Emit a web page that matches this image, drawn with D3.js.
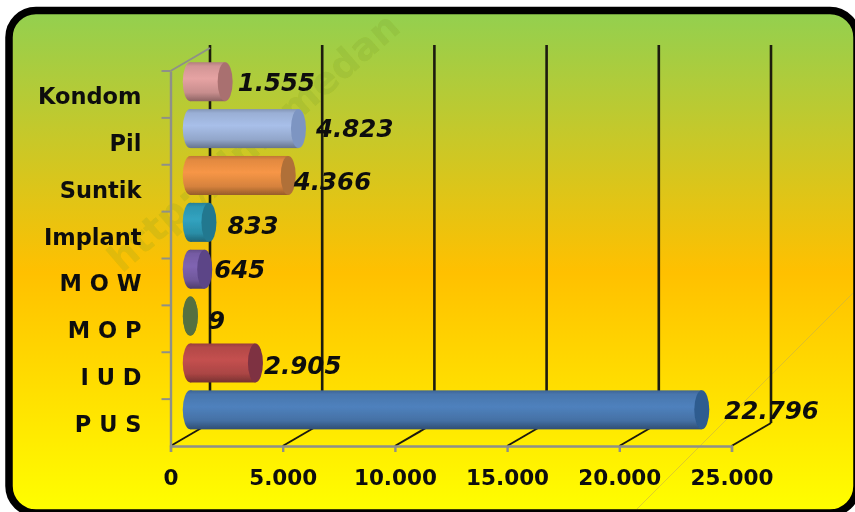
<!DOCTYPE html>
<html>
<head>
<meta charset="utf-8">
<script src="https://cdn.jsdelivr.net/npm/d3@7"></script>
<style>
  html, body { margin: 0; padding: 0; background: #fff; overflow: hidden; }
  svg { display: block; }
  text { font-family: "DejaVu Sans", Verdana, sans-serif; font-weight: bold; fill: #111; }
</style>
</head>
<body>
<div id="chart"></div>
<script>
const categories = ["Kondom", "Pil", "Suntik", "Implant", "M O W", "M O P", "I U D", "P U S"];
const values = [1555, 4823, 4366, 833, 645, 9, 2905, 22796];
const tickValues = [0, 5000, 10000, 15000, 20000, 25000];
const bodyColors = ["#e6a3a3", "#a8bfe9", "#f79646", "#31a3c0", "#8064b2", "#6a8a4c", "#c4504f", "#4f81bd"];
const capColors = ["#a9706f", "#7d95c2", "#b06f38", "#23788f", "#5b4487", "#55703f", "#7e3042", "#2d5b8f"];
// hand nudges for the value labels, they dont sit evenly in the original
const labelDx = [5, 10, -2, 11, 2, 10, 1, 15];
const labelDy = [0, 0, 5.5, 3, 0, 4.5, 2, 0];

const width = 855, height = 512;
const depthX = 39.5, depthY = -23;
const capRx = 7.5, barH = 39;

const svg = d3.select("#chart").append("svg")
  .attr("width", width)
  .attr("height", height);

const defs = svg.append("defs");

const bg = defs.append("linearGradient")
  .attr("id", "bg").attr("x1", 0).attr("y1", 0).attr("x2", 0).attr("y2", 1);
bg.append("stop").attr("offset", "0%").attr("stop-color", "#92d050");
bg.append("stop").attr("offset", "52%").attr("stop-color", "#ffc000");
bg.append("stop").attr("offset", "100%").attr("stop-color", "#ffff00");

const soft = defs.append("filter").attr("id", "soft");
soft.append("feGaussianBlur").attr("stdDeviation", 0.4);

bodyColors.forEach((c, i) => {
  const g = defs.append("linearGradient")
    .attr("id", "cyl" + i).attr("x1", 0).attr("y1", 0).attr("x2", 0).attr("y2", 1);
  const col = d3.color(c);
  g.append("stop").attr("offset", "0%").attr("stop-color", col.darker(0.7));
  g.append("stop").attr("offset", "10%").attr("stop-color", col.darker(0.25));
  g.append("stop").attr("offset", "42%").attr("stop-color", col);
  g.append("stop").attr("offset", "78%").attr("stop-color", col.darker(0.4));
  g.append("stop").attr("offset", "100%").attr("stop-color", col.darker(1.4));
});

// frame
svg.append("rect")
  .attr("x", 9).attr("y", 10.5)
  .attr("width", 848).attr("height", 502.5)
  .attr("rx", 27).attr("ry", 27)
  .attr("fill", "url(#bg)")
  .attr("stroke", "#000")
  .attr("stroke-width", 7.5);

const root = svg.append("g").attr("filter", "url(#soft)");

// watermark
root.append("text")
  .attr("transform", "translate(122,274) rotate(-41)")
  .attr("font-size", 38)
  .style("fill", "#7a9a20")
  .style("opacity", 0.18)
  .text("http://ilmumedan");

root.append("line")
  .attr("x1", 637).attr("y1", 509).attr("x2", 853).attr("y2", 293)
  .attr("stroke", "#c9b24a").attr("stroke-width", 1).attr("opacity", 0.6);

const x = d3.scaleLinear().domain([0, 25000]).range([170.5, 731.5]);
const y = d3.scaleBand().domain(categories).range([71, 446]);
const nf = d3.formatLocale({ decimal: ",", thousands: ".", grouping: [3], currency: ["", ""] }).format(",d");

// back wall gridlines + floor lines
root.append("g").selectAll("line.wall")
  .data(tickValues)
  .join("line")
  .attr("x1", d => x(d) + depthX).attr("x2", d => x(d) + depthX)
  .attr("y1", 45).attr("y2", 446 + depthY)
  .attr("stroke", "#1c1a10").attr("stroke-width", 2.6);

root.append("g").selectAll("line.floor")
  .data(tickValues)
  .join("line")
  .attr("x1", d => x(d)).attr("x2", d => x(d) + depthX)
  .attr("y1", 446).attr("y2", 446 + depthY)
  .attr("stroke", "#1c1a10").attr("stroke-width", 2);

// left side top edge
root.append("line")
  .attr("x1", x(0)).attr("y1", 71).attr("x2", x(0) + depthX).attr("y2", 71 + depthY)
  .attr("stroke", "#8f9088").attr("stroke-width", 2);

// axes
const xAxis = root.append("g")
  .attr("transform", "translate(0,446)")
  .call(d3.axisBottom(x).tickValues(tickValues).tickSize(6).tickPadding(18).tickFormat(nf));
xAxis.selectAll("text").attr("font-size", 21.5).attr("dy", "0.71em");

const yAxis = root.append("g")
  .attr("transform", "translate(170.5,0)")
  .call(d3.axisLeft(y).tickSize(0).tickPadding(29));
yAxis.selectAll("text").attr("font-size", 22.5).attr("dy", "0.42em");

root.selectAll(".domain").attr("stroke", "#8f9088").attr("stroke-width", 2.4);
xAxis.selectAll(".tick line").attr("stroke", "#8f9088").attr("stroke-width", 2.4);

// category ticks sit on the band edges not the centres
yAxis.selectAll("line.edge")
  .data(categories)
  .join("line")
  .attr("class", "edge")
  .attr("x1", -9).attr("x2", 0)
  .attr("y1", d => y(d)).attr("y2", d => y(d))
  .attr("stroke", "#8f9088").attr("stroke-width", 2);

// cylinders
const startX = x(0) + depthX / 2;
const midY = d => y(d) + y.bandwidth() / 2 - 12.7;

const bars = root.append("g").selectAll("g")
  .data(categories)
  .join("g");

bars.append("rect")
  .attr("x", startX)
  .attr("y", d => midY(d) - barH / 2)
  .attr("width", (d, i) => x(values[i]) - x(0))
  .attr("height", barH)
  .attr("fill", (d, i) => `url(#cyl${i})`);

// left rounded end
bars.append("ellipse")
  .attr("cx", startX)
  .attr("cy", midY)
  .attr("rx", capRx).attr("ry", barH / 2)
  .attr("fill", (d, i) => `url(#cyl${i})`);

// right face
bars.append("ellipse")
  .attr("cx", (d, i) => startX + x(values[i]) - x(0))
  .attr("cy", midY)
  .attr("rx", capRx).attr("ry", barH / 2)
  .attr("fill", (d, i) => capColors[i]);

// value labels
root.append("g").selectAll("text")
  .data(categories)
  .join("text")
  .attr("x", (d, i) => startX + x(values[i]) - x(0) + capRx + labelDx[i])
  .attr("y", (d, i) => midY(d) + labelDy[i])
  .attr("dy", "0.36em")
  .attr("font-size", 24.5)
  .attr("font-style", "italic")
  .text((d, i) => nf(values[i]));
</script>
</body>
</html>
